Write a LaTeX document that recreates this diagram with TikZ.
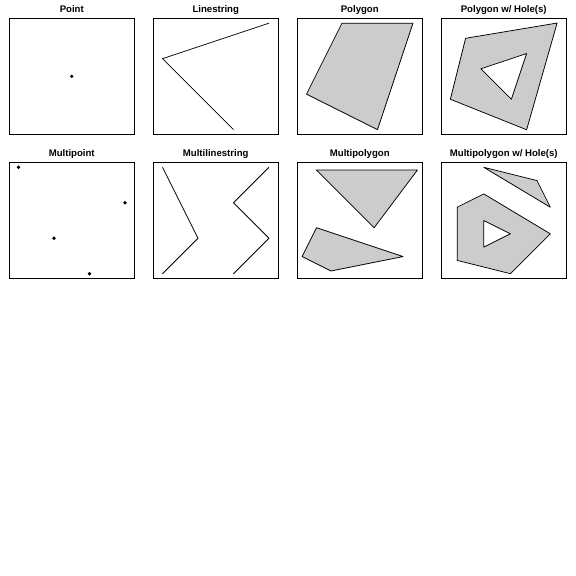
\documentclass[tikz,border=0pt]{standalone}
\usepackage{fontspec}
\setmainfont{Liberation Sans}
\definecolor{polyfill}{HTML}{CCCCCC}
\begin{document}
\begin{tikzpicture}[x=1pt,y=-1pt,
  geom/.style={draw=black, line width=0.75pt, line join=round},
  poly/.style={geom, fill=polyfill, even odd rule},
  frame/.style={draw=black, line width=0.75pt},
  ttl/.style={font=\bfseries\fontsize{9.6}{11}\selectfont, anchor=base, inner sep=0pt},
  dot/.style={fill=black}]
\useasboundingbox[fill=white] (0,0) rectangle (576,576);

% frames
\draw[frame] (9.1,18.5) rectangle (134.4,134.3);
\draw[frame] (153.1,18.5) rectangle (278.4,134.3);
\draw[frame] (297.1,18.5) rectangle (422.4,134.3);
\draw[frame] (441.1,18.5) rectangle (566.4,134.3);
\draw[frame] (9.1,162.5) rectangle (134.4,278.5);
\draw[frame] (153.1,162.5) rectangle (278.4,278.5);
\draw[frame] (297.1,162.5) rectangle (422.4,278.5);
\draw[frame] (441.1,162.5) rectangle (566.4,278.5);

% titles
\node[ttl] (t1) at (71.75,12.7) {Point};
\node[ttl] (t2) at (215.75,12.7) {Linestring};
\node[ttl] (t3) at (359.75,12.7) {Polygon};
\node[ttl] (t4) at (503.75,12.7) {Polygon w/ Hole(s)};
\node[ttl] (t5) at (71.75,156.7) {Multipoint};
\node[ttl] (t6) at (215.75,156.7) {Multilinestring};
\node[ttl] (t7) at (359.75,156.7) {Multipolygon};
\node[ttl] (t8) at (503.75,156.7) {Multipolygon w/ Hole(s)};

% Point
\fill[dot] (71.75,76.4) circle (1.8pt);

% Linestring
\begin{scope}[shift={(215.75,76.4)}, x=3.55pt, y=3.55pt, shift={(-25,-25)}]
  \draw[geom] (30,10) -- (10,30) -- (40,40);
\end{scope}

% Polygon
\begin{scope}[shift={(359.75,76.4)}, x=3.55pt, y=3.55pt, shift={(-25,-25)}]
  \draw[poly] (30,10) -- (40,40) -- (20,40) -- (10,20) -- cycle;
\end{scope}

% Polygon with hole
\begin{scope}[shift={(503.75,76.4)}, x=3.05pt, y=3.05pt, shift={(-27.5,-27.5)}]
  \draw[poly] (35,10) -- (45,45) -- (15,40) -- (10,20) -- cycle
              (20,30) -- (35,35) -- (30,20) -- cycle;
\end{scope}

% Multipoint
\begin{scope}[shift={(71.75,220.5)}, x=3.55pt, y=3.55pt, shift={(-25,-25)}]
  \fill[dot] (10,40) circle (1.8pt);
  \fill[dot] (40,30) circle (1.8pt);
  \fill[dot] (20,20) circle (1.8pt);
  \fill[dot] (30,10) circle (1.8pt);
\end{scope}

% Multilinestring
\begin{scope}[shift={(215.75,220.5)}, x=3.55pt, y=3.55pt, shift={(-25,-25)}]
  \draw[geom] (10,10) -- (20,20) -- (10,40);
  \draw[geom] (40,40) -- (30,30) -- (40,20) -- (30,10);
\end{scope}

% Multipolygon
\begin{scope}[shift={(359.75,220.5)}, x=2.885pt, y=2.885pt, shift={(-25,-22.5)}]
  \draw[poly] (30,20) -- (45,40) -- (10,40) -- cycle;
  \draw[poly] (15,5) -- (40,10) -- (10,20) -- (5,10) -- cycle;
\end{scope}

% Multipolygon with holes
\begin{scope}[shift={(503.75,220.5)}, x=2.66pt, y=2.66pt, shift={(-27.5,-25)}]
  \draw[poly] (40,40) -- (20,45) -- (45,30) -- cycle;
  \draw[poly] (20,35) -- (10,30) -- (10,10) -- (30,5) -- (45,20) -- cycle
              (30,20) -- (20,15) -- (20,25) -- cycle;
\end{scope}
\end{tikzpicture}
\end{document}
